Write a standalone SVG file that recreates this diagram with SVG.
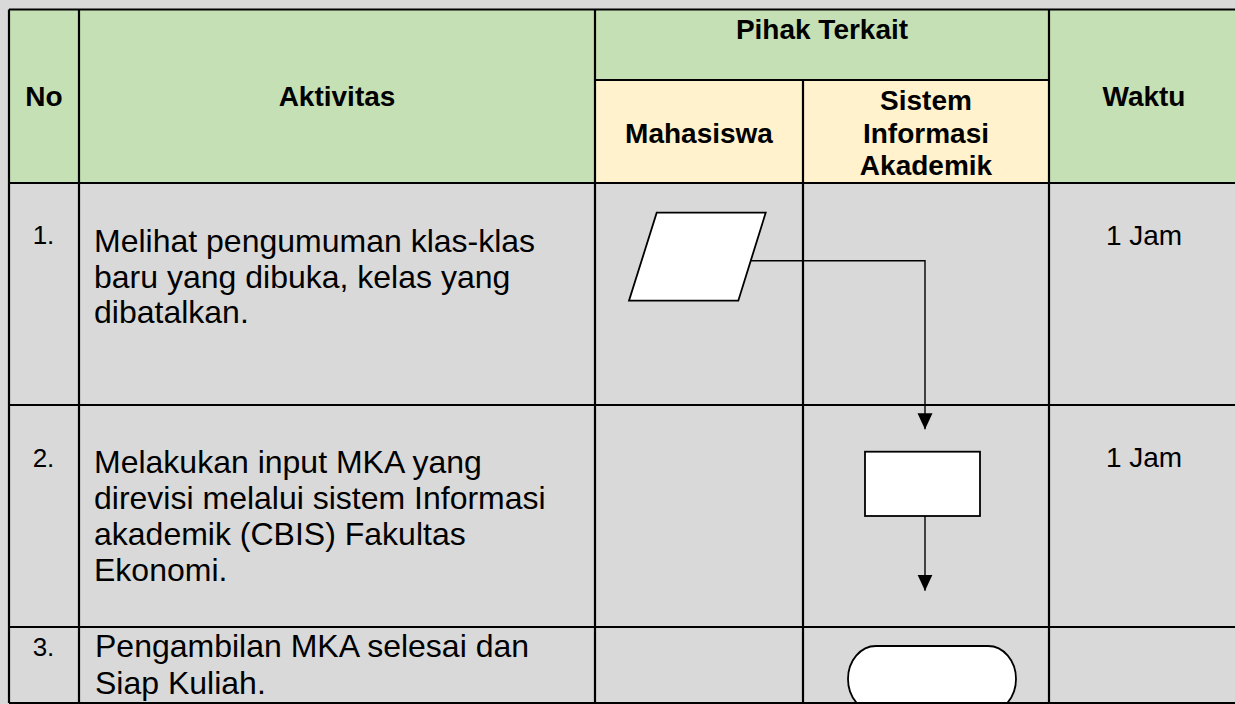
<svg xmlns="http://www.w3.org/2000/svg" width="1235" height="704" viewBox="0 0 1235 704">
  <style>
    .hdr { font-family: "Liberation Sans", Arial, sans-serif; font-weight: bold; font-size: 28px; fill: #000; text-anchor: middle; }
    .body { font-family: "Liberation Sans", Arial, sans-serif; font-size: 32px; fill: #000; }
    .num { font-family: "Liberation Sans", Arial, sans-serif; font-size: 26px; fill: #000; text-anchor: middle; }
    .time { font-family: "Liberation Sans", Arial, sans-serif; font-size: 28px; fill: #000; text-anchor: middle; }
    .grid { stroke: #000; stroke-width: 2.2; fill: none; }
    .shape { fill: #fff; stroke: #000; stroke-width: 1.8; }
    .conn { fill: none; stroke: #000; stroke-width: 1.4; }
  </style>
  <defs>
    <marker id="arrow" markerUnits="userSpaceOnUse" markerWidth="16" markerHeight="16" viewBox="0 0 16 16" refX="16" refY="8" orient="auto">
      <path d="M0,0.5 L16,8 L0,15.5 z" fill="#000"/>
    </marker>
  </defs>

  <!-- background -->
  <rect x="0" y="0" width="1235" height="704" fill="#D9D9D9"/>

  <!-- header fills -->
  <g id="header-fills">
    <rect x="9" y="9.5" width="586" height="173.5" fill="#C5E0B4"/>
    <rect x="595" y="9.5" width="454" height="70.5" fill="#C5E0B4"/>
    <rect x="595" y="80" width="454" height="103" fill="#FFF2CC"/>
    <rect x="1049" y="9.5" width="191" height="173.5" fill="#C5E0B4"/>
  </g>

  <!-- header text -->
  <g id="header-text">
    <text class="hdr" x="44" y="106">No</text>
    <text class="hdr" x="337" y="106">Aktivitas</text>
    <text class="hdr" x="822" y="39">Pihak Terkait</text>
    <text class="hdr" x="699" y="143">Mahasiswa</text>
    <text class="hdr" x="926" y="110">Sistem</text>
    <text class="hdr" x="926" y="143">Informasi</text>
    <text class="hdr" x="926" y="175">Akademik</text>
    <text class="hdr" x="1144" y="106">Waktu</text>
  </g>

  <!-- body text -->
  <g id="row1">
    <text class="num" x="43.5" y="244">1.</text>
    <text class="body" x="94" y="252">Melihat pengumuman klas-klas</text>
    <text class="body" x="94" y="288">baru yang dibuka, kelas yang</text>
    <text class="body" x="94" y="323">dibatalkan.</text>
    <text class="time" x="1144" y="245">1 Jam</text>
  </g>
  <g id="row2">
    <text class="num" x="43.5" y="467">2.</text>
    <text class="body" x="94" y="473">Melakukan input MKA yang</text>
    <text class="body" x="94" y="509">direvisi melalui sistem Informasi</text>
    <text class="body" x="94" y="545">akademik (CBIS) Fakultas</text>
    <text class="body" x="94" y="581">Ekonomi.</text>
    <text class="time" x="1144" y="467">1 Jam</text>
  </g>
  <g id="row3">
    <text class="num" x="43.5" y="656">3.</text>
    <text class="body" x="95" y="657">Pengambilan MKA selesai dan</text>
    <text class="body" x="95" y="694">Siap Kuliah.</text>
  </g>

  <!-- nodes -->
  <g id="node-input">
    <polygon class="shape" points="656.7,212.7 765.7,212.7 738.3,300.7 629,300.7"/>
  </g>
  <g id="node-process">
    <rect class="shape" x="865" y="451.7" width="115" height="64.3"/>
  </g>
  <g id="node-end">
    <rect class="shape" x="848" y="646" width="168" height="66" rx="28" ry="33"/>
  </g>

  <!-- connectors -->
  <g id="connectors">
    <path class="conn" d="M750.8,260.7 H925 V429.3" marker-end="url(#arrow)"/>
    <path class="conn" d="M925,516 V590.7" marker-end="url(#arrow)"/>
  </g>

  <!-- table grid -->
  <g id="grid">
    <line class="grid" x1="9" y1="9.5" x2="1240" y2="9.5"/>
    <line class="grid" x1="595" y1="80" x2="1049" y2="80"/>
    <line class="grid" x1="9" y1="183" x2="1240" y2="183"/>
    <line class="grid" x1="9" y1="405" x2="1240" y2="405"/>
    <line class="grid" x1="9" y1="627" x2="1240" y2="627"/>
    <line class="grid" x1="9" y1="703" x2="1240" y2="703"/>
    <line class="grid" x1="9" y1="9.5" x2="9" y2="703"/>
    <line class="grid" x1="79" y1="9.5" x2="79" y2="703"/>
    <line class="grid" x1="595" y1="9.5" x2="595" y2="703"/>
    <line class="grid" x1="803" y1="80" x2="803" y2="703"/>
    <line class="grid" x1="1049" y1="9.5" x2="1049" y2="703"/>
  </g>
</svg>
